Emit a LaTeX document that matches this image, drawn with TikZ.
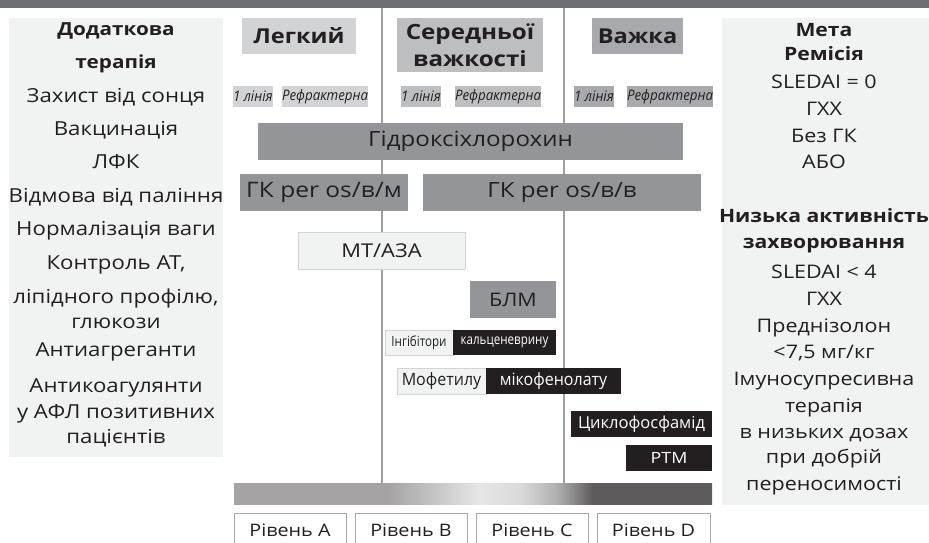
\documentclass[tikz,border=0pt]{standalone}
\usepackage{fontspec}
\setmainfont{Open Sans}[FakeStretch=1.15]
\definecolor{topbar}{HTML}{6D6E71}
\definecolor{panel}{HTML}{F1F2F2}
\definecolor{hdrA}{HTML}{D1D3D4}
\definecolor{hdrB}{HTML}{BCBEC0}
\definecolor{hdrC}{HTML}{A7A9AC}
\definecolor{barg}{HTML}{939598}
\definecolor{txt}{HTML}{231F20}
\definecolor{vline}{HTML}{9D9FA2}
\definecolor{lvlb}{HTML}{A7A9AC}
\definecolor{ga}{HTML}{A5A3A4}
\definecolor{gb}{HTML}{E6E6E6}
\definecolor{gc}{HTML}{DADADA}
\definecolor{gd}{HTML}{B0B0B0}
\definecolor{ge}{HTML}{8A8889}
\definecolor{gf}{HTML}{5D5B5C}
\pgfdeclarehorizontalshading{levgrad}{100bp}{color(0bp)=(ga); color(25bp)=(ga); color(41.2bp)=(ga); color(50.6bp)=(gb); color(54.9bp)=(gc); color(58.7bp)=(gd); color(60.6bp)=(ge); color(62.5bp)=(gf); color(75bp)=(gf); color(100bp)=(gf)}
\begin{document}
\begin{tikzpicture}[x=1pt,y=-1pt,
  box/.style={anchor=north west, inner sep=0pt, outer sep=0pt, text=txt, align=center},
  hdr/.style={box, font=\fontsize{20.5}{27}\selectfont\bfseries},
  sub/.style={box, minimum height=21, font=\fontsize{14.5}{15}\selectfont\itshape},
  bar/.style={box, fill=barg, minimum height=37, font=\fontsize{21}{21}\selectfont},
  lite/.style={box, fill=panel, draw=hdrA, line width=0.8pt},
  dark/.style={box, fill=txt, text=white},
  lvl/.style={box, fill=white, draw=lvlb, line width=1pt, minimum width=112, minimum height=34, font=\fontsize{17.2}{17.2}\selectfont},
  ptxt/.style={anchor=mid, inner sep=0pt, text=txt, font=\fontsize{19.3}{19.3}\selectfont},
  rtxt/.style={ptxt, font=\fontsize{18.7}{18.7}\selectfont},
  pbold/.style={ptxt, font=\fontsize{18}{18}\selectfont\bfseries},
  rbold/.style={ptxt, font=\fontsize{18.4}{18.4}\selectfont\bfseries},
  divider/.style={draw=vline, line width=2pt}
]
\useasboundingbox (0,0) rectangle (929,543);
\clip (0,0) rectangle (929,543);
\fill[white] (0,0) rectangle (929,543);
% top bar
\fill[topbar] (0,0) rectangle (929,8);
% dividers
\coordinate (d1t) at (382,8); \coordinate (d1b) at (382,486);
\coordinate (d2t) at (564,8); \coordinate (d2b) at (564,486);
\path[divider] (d1t) -- (d1b);
\path[divider] (d2t) -- (d2b);
% side panels
\fill[panel] (9,18) rectangle (223,457);
\fill[panel] (722,18) rectangle (929,505);
% left column
\node[pbold] (l1) at (116,33) {Додаткова};
\node[pbold] (l2) at (116,66) {терапія};
\node[ptxt] (l3) at (116,100) {Захист від сонця};
\node[ptxt] (l4) at (116,133) {Вакцинація};
\node[ptxt] (l5) at (116,166) {ЛФК};
\node[ptxt] (l6) at (116,200) {Відмова від паління};
\node[ptxt] (l7) at (116,233) {Нормалізація ваги};
\node[ptxt] (l8) at (116,267) {Контроль АТ,};
\node[ptxt] (l9) at (116,301) {ліпідного профілю,};
\node[ptxt] (l10) at (116,326) {глюкози};
\node[ptxt] (l11) at (116,354) {Антиагреганти};
\node[ptxt] (l12) at (116,390) {Антикоагулянти};
\node[ptxt] (l13) at (116,416) {у АФЛ позитивних};
\node[ptxt] (l14) at (116,441) {пацієнтів};
% right column
\node[rbold] (r1) at (824,34) {Мета};
\node[rbold] (r2) at (824,58) {Ремісія};
\node[rtxt] (r3) at (824,86) {SLEDAI = 0};
\node[rtxt] (r4) at (824,113) {ГХХ};
\node[rtxt] (r5) at (824,140) {Без ГК};
\node[rtxt] (r6) at (824,166) {АБО};
\node[rbold] (r7) at (824,220) {Низька активність};
\node[rbold] (r8) at (824,246) {захворювання};
\node[rtxt] (r9) at (824,276) {SLEDAI < 4};
\node[rtxt] (r10) at (824,303) {ГХХ};
\node[rtxt] (r11) at (824,330) {Преднізолон};
\node[rtxt] (r12) at (824,356) {<7,5 мг/кг};
\node[rtxt] (r13) at (824,383) {Імуносупресивна};
\node[rtxt] (r14) at (824,410) {терапія};
\node[rtxt] (r15) at (824,436) {в низьких дозах};
\node[rtxt] (r16) at (824,461) {при добрій};
\node[rtxt] (r17) at (824,488) {переносимості};
% headers
\node[hdr, fill=hdrA, minimum width=114, minimum height=36] (hA) at (242,18) {Легкий};
\node[hdr, fill=hdrB, minimum width=146, minimum height=54, font=\fontsize{21}{27}\selectfont\bfseries] (hB) at (397,18) {Середньої\\важкості};
\node[hdr, fill=hdrC, minimum width=91, minimum height=36] (hC) at (592,18) {Важка};
% sub labels
\node[sub, fill=hdrA, minimum width=38] (sA1) at (233,86) {\scalebox{0.8}[1]{1 лінія}};
\node[sub, fill=hdrA, minimum width=85] (sA2) at (282,86) {\scalebox{0.8}[1]{Рефрактерна}};
\node[sub, fill=hdrB, minimum width=40] (sB1) at (401,86) {\scalebox{0.8}[1]{1 лінія}};
\node[sub, fill=hdrB, minimum width=83] (sB2) at (455,86) {\scalebox{0.8}[1]{Рефрактерна}};
\node[sub, fill=hdrC, minimum width=40] (sC1) at (574,86) {\scalebox{0.8}[1]{1 лінія}};
\node[sub, fill=hdrC, minimum width=85] (sC2) at (627,86) {\scalebox{0.8}[1]{Рефрактерна}};
% bars
\node[bar, minimum width=425] (hcq) at (258,123) {Гідроксіхлорохин};
\node[bar, minimum width=168, font=\fontsize{21.3}{21.3}\selectfont] (gk1) at (240,174) {ГК per os/в/м};
\node[bar, minimum width=278] (gk2) at (423,174) {ГК per os/в/в};
\node[lite, minimum width=167, minimum height=37, font=\fontsize{19}{19}\selectfont] (mt) at (298,232) {МТ/АЗА};
\node[bar, minimum width=86, font=\fontsize{18.7}{18.7}\selectfont] (blm) at (470,281) {БЛМ};
\node[lite, minimum width=68, minimum height=25, font=\fontsize{14}{14}\selectfont] (ing) at (385,330) {\scalebox{0.72}[1]{Інгібітори}};
\node[dark, minimum width=103, minimum height=25, font=\fontsize{14}{14}\selectfont] (kal) at (453,330) {\scalebox{0.72}[1]{кальценеврину}};
\node[lite, minimum width=89, minimum height=26, font=\fontsize{17}{17}\selectfont] (mof) at (397,368) {\scalebox{0.82}[1]{Мофетилу}};
\node[dark, minimum width=135, minimum height=26, font=\fontsize{17}{17}\selectfont] (mik) at (486,368) {\scalebox{0.82}[1]{мікофенолату}};
\node[dark, minimum width=141, minimum height=26, font=\fontsize{16.5}{16.5}\selectfont] (cyc) at (571,411) {\scalebox{0.87}[1]{Циклофосфамід}};
\node[dark, minimum width=86, minimum height=26, font=\fontsize{15.5}{15.5}\selectfont] (rtm) at (626,445) {РТМ};
% gradient bar
\shade[shading=levgrad] (234,483) rectangle (712,504);
\path[divider] (d1b) -- ++(0,-3);
% levels
\node[lvl] (lvA) at (234,513) {Рівень A};
\node[lvl] (lvB) at (355,513) {Рівень B};
\node[lvl] (lvC) at (476,513) {Рівень C};
\node[lvl, minimum width=113] (lvD) at (597,513) {Рівень D};
\end{tikzpicture}
\end{document}
